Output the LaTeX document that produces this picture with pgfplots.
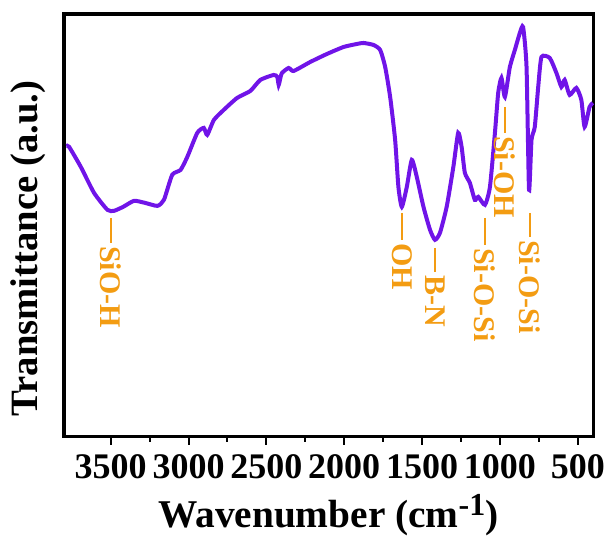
\documentclass[border=0pt]{standalone}
\usepackage{fontspec}
\setmainfont{Liberation Serif}
\usepackage{pgfplots}
\pgfplotsset{compat=1.18}
\definecolor{ftir}{RGB}{112,20,232}
\definecolor{lab}{RGB}{243,156,18}
\begin{document}
\begin{tikzpicture}
\useasboundingbox (-48pt,-74pt) rectangle (408pt,327.5pt);
\begin{axis}[
  at={(0,0)}, anchor=south west,
  scale only axis, width=397pt, height=317pt,
  x dir=reverse, xmin=400, xmax=3800, ymin=0, ymax=423,
  xtick={500,1000,...,3500}, minor x tick num=1,
  ytick=\empty,
  xtick pos=bottom, tick align=outside,
  major tick length=6pt, minor tick length=4pt,
  every tick/.style={black, line width=1.5pt},
  axis line style={line width=2.6pt},
  /pgf/number format/assume math mode=true,
  /pgf/number format/1000 sep={},
  xticklabel style={font=\fontsize{27}{30}\selectfont\bfseries, inner sep=1pt, yshift=-6pt},
  xlabel={Wavenumber (cm\textsuperscript{\fontsize{24}{26}\selectfont -1})},
  xlabel style={font=\fontsize{29.5}{33}\selectfont\bfseries, at={(axis description cs:0.5,0)}, anchor=center, yshift=-59pt},
  ylabel={Transmittance (a.u.)},
  ylabel style={font=\fontsize{29}{33}\selectfont\bfseries, at={(axis description cs:0,0.445)}, anchor=center, yshift=27pt},
  clip=false,
]
\addplot[ftir, line width=3pt, smooth, tension=0.35] coordinates {
(3785,291) (3767,290) (3692,270) (3607,244) (3521,227) (3479,226) (3420,230)
(3350,236) (3280,234) (3200,231) (3158,237) (3105,262) (3051,267) (3008,280)
(2944,304) (2902,309) (2880,302) (2837,317) (2774,327) (2688,339) (2603,346)
(2539,357) (2453,362) (2430,360) (2421,352) (2410,359) (2400,364) (2357,369)
(2325,366) (2218,375) (2111,383) (2004,390) (1919,393) (1876,394) (1812,392)
(1769,387) (1737,370) (1705,340) (1673,297) (1652,250) (1630,230) (1598,250)
(1566,277) (1534,260) (1491,230) (1449,207) (1417,197) (1385,204) (1342,230)
(1299,270) (1268,304) (1246,290) (1225,264) (1193,254) (1161,237) (1139,240)
(1096,232) (1064,250) (1032,304) (1011,344) (990,359) (968,340) (936,370)
(904,387) (872,404) (851,410) (829,370) (813,247) (797,297) (776,310)
(754,350) (733,380) (680,379) (637,364) (605,350) (584,357) (552,342)
(509,349) (477,337) (456,310) (424,330) (403,334)
};
\tikzset{lbl/.style={lab, font=\fontsize{22.5}{24}\selectfont\bfseries, rotate=-90, anchor=west, inner sep=0pt}}
\draw[lab, line width=1.5pt] (axis cs:3500,219) -- (axis cs:3500,194);
\node[lbl] at (axis cs:3500,191) {SiO-H};
\draw[lab, line width=1.5pt] (axis cs:1630,224) -- (axis cs:1630,197);
\node[lbl] at (axis cs:1630,194) {OH};
\draw[lab, line width=1.5pt] (axis cs:1417,189) -- (axis cs:1417,165);
\node[lbl] at (axis cs:1417,162) {B-N};
\draw[lab, line width=1.5pt] (axis cs:1096,219) -- (axis cs:1096,192);
\node[lbl] at (axis cs:1096,189) {Si-O-Si};
\draw[lab, line width=1.5pt] (axis cs:968,330) -- (axis cs:968,304);
\node[lbl] at (axis cs:968,301) {Si-OH};
\draw[lab, line width=1.5pt] (axis cs:808,224) -- (axis cs:808,200);
\node[lbl] at (axis cs:808,197) {Si-O-Si};
\end{axis}
\end{tikzpicture}
\end{document}
